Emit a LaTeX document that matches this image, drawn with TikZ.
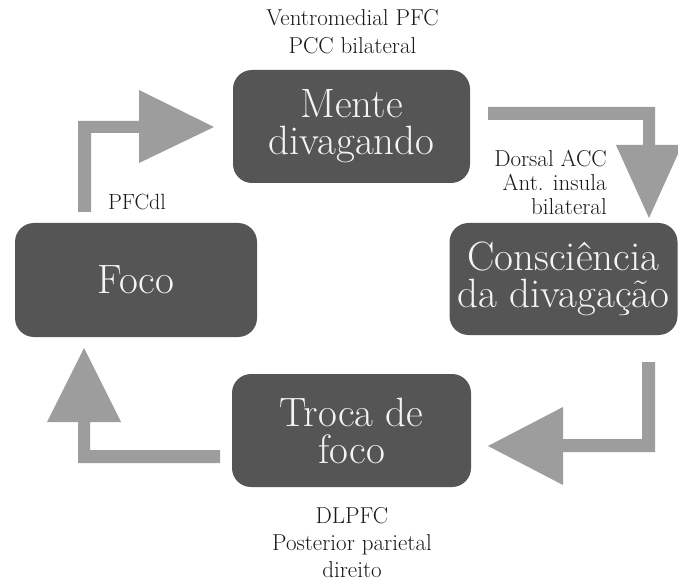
\documentclass[tikz,border=0pt]{standalone}
\usepackage{fontspec}
\definecolor{boxgray}{HTML}{555555}
\definecolor{arrowgray}{HTML}{9D9D9D}
\definecolor{labelink}{HTML}{1A1A1A}
\definecolor{boxink}{HTML}{F4F4F4}
\begin{document}
\begin{tikzpicture}[x=1pt,y=-1pt,
  stagebox/.style={draw=none,fill=boxgray,rounded corners=19pt,inner sep=0pt,
    text=boxink,align=center,font=\fontsize{41}{37}\selectfont},
  regionlabel/.style={inner sep=0pt,text=labelink,font=\fontsize{23}{28}\selectfont},
  blockarrow/.style={fill=arrowgray,draw=none}]
\useasboundingbox (0,0) rectangle (678,583);
\clip (0,0) rectangle (678,583);
\fill[white] (0,0) rectangle (678,583);

% stage boxes
\node[stagebox,minimum width=237pt,minimum height=113pt] (mente) at (351.5,126.5) {Mente\\divagando};
\node[stagebox,minimum width=242pt,minimum height=114pt] (foco) at (136,280) {Foco};
\node[stagebox,minimum width=228pt,minimum height=112pt] (consc) at (563.5,279) {Consciência\\da divagação};
\node[stagebox,minimum width=239pt,minimum height=113pt] (troca) at (351.5,430.5) {Troca de\\foco};

% region labels
\node[regionlabel,align=center,anchor=north] (lbmente) at (352.5,9) {Ventromedial PFC\\PCC bilateral};
\node[regionlabel,align=right,anchor=north east,font=\fontsize{23}{24}\selectfont] (lbconsc) at (607,150) {Dorsal ACC\\Ant. insula\\bilateral};
\node[regionlabel,anchor=north,font=\fontsize{22}{26}\selectfont] (lbfoco) at (137,194) {PFCdl};
\node[regionlabel,align=center,anchor=north,font=\fontsize{23}{27}\selectfont] (lbtroca) at (352,507) {DLPFC\\Posterior parietal\\direito};

% block arrows (Foco -> Mente)
\fill[blockarrow] (78,212) -- (78,121) -- (139,121) -- (139,90) -- (214,127)
  -- (139,163) -- (139,133) -- (91,133) -- (91,212) -- cycle;
% Mente -> Consciencia
\fill[blockarrow] (488,107) -- (655,107) -- (655,145) -- (682,145) -- (649,218)
  -- (616,145) -- (643,145) -- (643,120) -- (488,120) -- cycle;
% Consciencia -> Troca
\fill[blockarrow] (642,362) -- (655,362) -- (655,452) -- (563,452) -- (563,485)
  -- (488,446) -- (563,407) -- (563,439) -- (642,439) -- cycle;
% Troca -> Foco
\fill[blockarrow] (220,450) -- (220,463) -- (78,463) -- (78,422) -- (47,422)
  -- (84,348) -- (121,422) -- (90,422) -- (90,450) -- cycle;
\end{tikzpicture}
\end{document}
